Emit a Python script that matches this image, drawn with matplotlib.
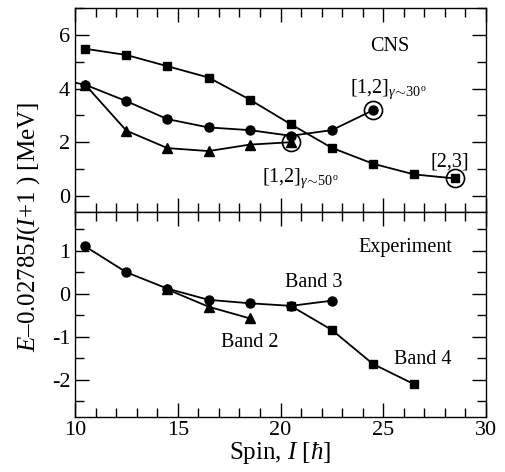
import matplotlib
matplotlib.use("Agg")
import matplotlib.pyplot as plt
from matplotlib.ticker import MultipleLocator

plt.rcParams['font.family'] = ['Liberation Serif', 'DejaVu Serif']
plt.rcParams['mathtext.fontset'] = 'custom'
plt.rcParams['mathtext.rm'] = 'Liberation Serif'
plt.rcParams['mathtext.it'] = 'Liberation Serif:italic'

# CNS (top panel)
cns_sq_x = [10.5, 12.5, 14.5, 16.5, 18.5, 20.5, 22.5, 24.5, 26.5, 28.5]
cns_sq_y = [5.48, 5.25, 4.83, 4.41, 3.59, 2.67, 1.79, 1.2, 0.8, 0.65]
cns_ci_x = [10.5, 12.5, 14.5, 16.5, 18.5, 20.5, 22.5, 24.5]
cns_ci_y = [4.14, 3.53, 2.86, 2.55, 2.45, 2.24, 2.45, 3.19]
cns_tr_x = [8.5, 10.5, 12.5, 14.5, 16.5, 18.5, 20.5]
cns_tr_y = [4.45, 4.14, 2.43, 1.78, 1.67, 1.91, 2.0]
cns_ring_x = [20.5, 24.5, 28.5]
cns_ring_y = [2.0, 3.19, 0.65]

# Experiment (bottom panel)
exp_b3_x = [10.5, 12.5, 14.5, 16.5, 18.5, 20.5, 22.5]
exp_b3_y = [1.1, 0.5, 0.12, -0.14, -0.22, -0.28, -0.16]
exp_b2_x = [14.5, 16.5, 18.5]
exp_b2_y = [0.1, -0.3, -0.57]
exp_b4_x = [20.5, 22.5, 24.5, 26.5]
exp_b4_y = [-0.28, -0.84, -1.63, -2.1]

fig = plt.figure(figsize=(5.05, 4.72), dpi=100)
L, R = 75 / 505, 486 / 505
top_y0, mid, bot = 1 - 8 / 472, 1 - 212 / 472, 1 - 416.5 / 472
ax1 = fig.add_axes([L, mid, R - L, top_y0 - mid])
ax2 = fig.add_axes([L, bot, R - L, mid - bot], sharex=ax1)

ms = 6
kw = dict(color='black', lw=1.3, clip_on=True)
ax1.plot(cns_sq_x, cns_sq_y, marker='s', ms=ms, **kw)
ax1.plot(cns_tr_x, cns_tr_y, marker='^', ms=ms + 0.5, **kw)
ax1.plot(cns_ci_x, cns_ci_y, marker='o', ms=ms + 0.5, **kw)
ax1.plot(cns_ring_x, cns_ring_y, ls='none', marker='o', ms=13, mfc='none',
         mec='black', mew=1.2)

ax2.plot(exp_b2_x, exp_b2_y, marker='^', ms=ms + 0.5, **kw)
ax2.plot(exp_b4_x, exp_b4_y, marker='s', ms=ms, **kw)
ax2.plot(exp_b3_x, exp_b3_y, marker='o', ms=ms + 0.5, **kw)

ax1.set_xlim(10, 30)
ax1.set_ylim(-0.6, 7.0)
ax2.set_ylim(-2.85, 1.9)

for ax in (ax1, ax2):
    ax.xaxis.set_major_locator(MultipleLocator(5))
    ax.xaxis.set_minor_locator(MultipleLocator(1))
    ax.tick_params(which='both', direction='in', top=True, right=True,
                   labelsize=16, width=1.0)
    ax.tick_params(which='major', length=10)
    ax.tick_params(which='minor', length=6.5)
    for s in ax.spines.values():
        s.set_linewidth(1.0)

ax1.yaxis.set_major_locator(MultipleLocator(2))
ax1.yaxis.set_minor_locator(MultipleLocator(1))
ax2.yaxis.set_major_locator(MultipleLocator(1))
ax2.yaxis.set_minor_locator(MultipleLocator(0.5))
ax2.set_yticks([-2, -1, 0, 1])
ax2.set_yticklabels(['-2', '-1', '0', '1'])
ax1.tick_params(labelbottom=False)

ax2.set_xlabel(r'Spin, $I$ [$\hbar$]', fontsize=18, labelpad=0)
fig.text(0.056, 0.52, r'$E$' + '\u2013' + r'$0.02785I(I$+$1$ ) [MeV]',
         rotation=90, ha='center', va='center', fontsize=18)

tfs = 14.5
ax1.text(25.3, 5.55, 'CNS', fontsize=tfs, ha='center', va='center')
ax1.text(23.4, 3.82, r'[1,2]$_{\gamma\!\sim\!30^{\mathrm{o}}}$', fontsize=tfs, ha='left', va='baseline')
ax1.text(28.25, 1.1, '[2,3]', fontsize=tfs, ha='center', va='baseline')
ax1.text(19.1, 0.51, r'[1,2]$_{\gamma\!\sim\!50^{\mathrm{o}}}$', fontsize=tfs, ha='left', va='baseline')

ax2.text(26.1, 1.07, 'Experiment', fontsize=tfs, ha='center', va='center')
ax2.text(21.6, 0.26, 'Band 3', fontsize=tfs, ha='center', va='center')
ax2.text(18.5, -1.14, 'Band 2', fontsize=tfs, ha='center', va='center')
ax2.text(26.9, -1.53, 'Band 4', fontsize=tfs, ha='center', va='center')

fig.savefig('out.png', dpi=100)
